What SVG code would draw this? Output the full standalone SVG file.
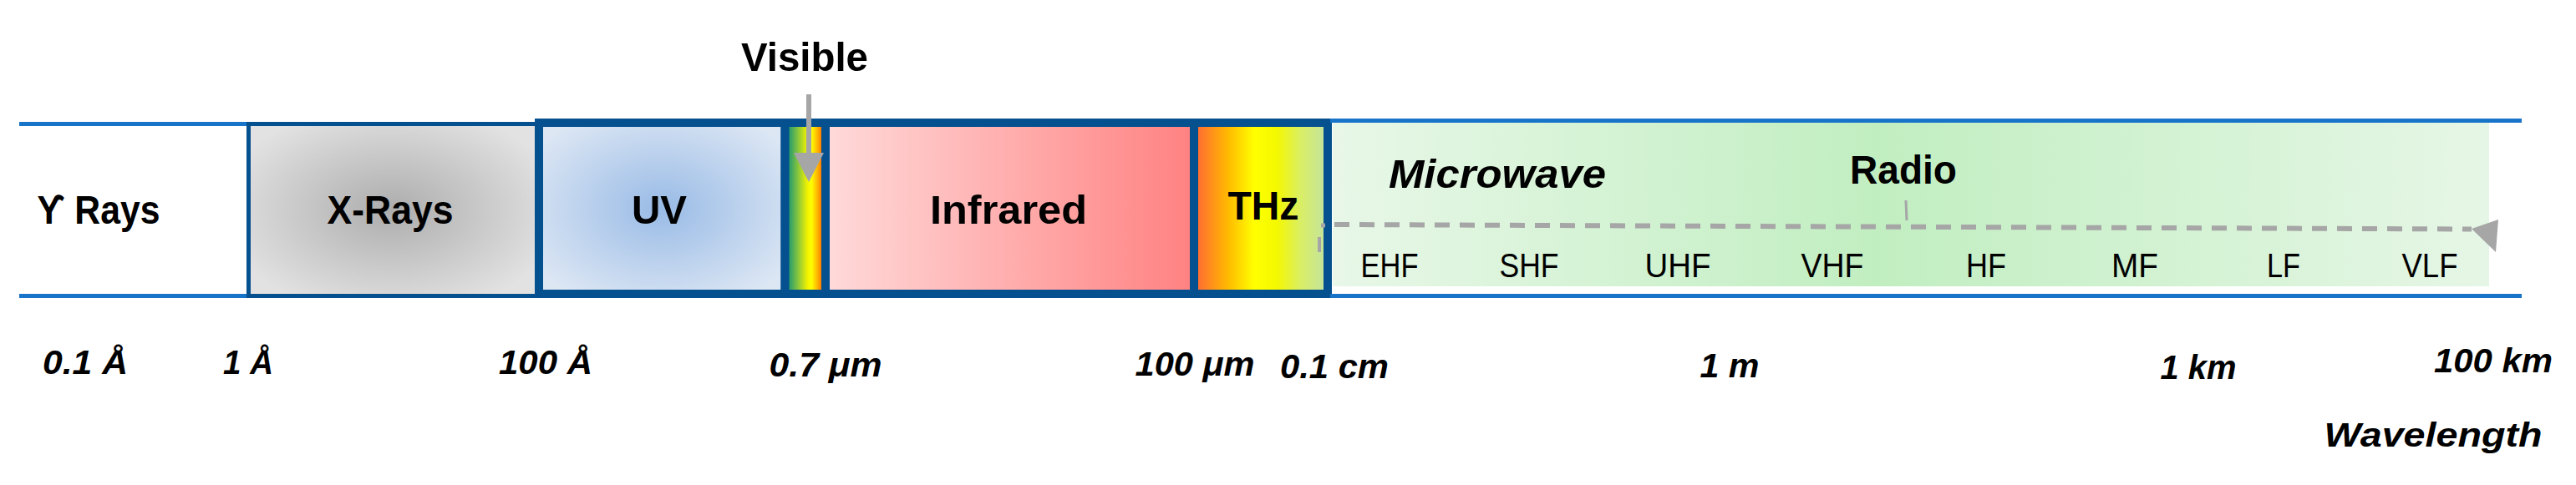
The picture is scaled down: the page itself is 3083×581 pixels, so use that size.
<svg xmlns="http://www.w3.org/2000/svg" width="3083" height="581" viewBox="0 0 3083 581">
<defs>
<style>
.lbl{font-family:"Liberation Sans","DejaVu Sans",Arial,sans-serif;font-weight:bold;font-size:49px;fill:#000;text-anchor:middle}
.it{font-style:italic}
.band{font-family:"Liberation Sans","DejaVu Sans",Arial,sans-serif;font-weight:normal;font-size:40px;fill:#000;text-anchor:middle}
.wl{font-family:"Liberation Sans","DejaVu Sans",Arial,sans-serif;font-weight:bold;font-style:italic;font-size:40px;fill:#000;text-anchor:middle}
.edge{fill:none;stroke:#05508f;stroke-width:10}
.rule{stroke:#1874c9;stroke-width:5}
.conn{stroke:#a6a6a6;fill:none}
.head{fill:#a6a6a6}
</style>
<radialGradient id="gX" cx="0.5" cy="0.5" r="0.6">
<stop offset="0" stop-color="#adadad"/>
<stop offset="1" stop-color="#e2e2e2"/>
</radialGradient>
<radialGradient id="gUV" cx="0.5" cy="0.5" r="0.6">
<stop offset="0" stop-color="#99bbe6"/>
<stop offset="1" stop-color="#dde7f4"/>
</radialGradient>
<linearGradient id="gVis" x1="0" y1="0" x2="1" y2="0">
<stop offset="0" stop-color="#008a7e"/>
<stop offset="0.3" stop-color="#80c341"/>
<stop offset="0.55" stop-color="#f2f200"/>
<stop offset="0.65" stop-color="#ffff00"/>
<stop offset="0.85" stop-color="#ff9a00"/>
<stop offset="1" stop-color="#ff2a00"/>
</linearGradient>
<linearGradient id="gIR" x1="0" y1="0" x2="1" y2="0">
<stop offset="0" stop-color="#ffdada"/>
<stop offset="1" stop-color="#ff8181"/>
</linearGradient>
<linearGradient id="gTHz" x1="0" y1="0" x2="1" y2="0">
<stop offset="0" stop-color="#ff6438"/>
<stop offset="0.25" stop-color="#ffb800"/>
<stop offset="0.45" stop-color="#ffff00"/>
<stop offset="0.62" stop-color="#f4f800"/>
<stop offset="0.8" stop-color="#d9ee66"/>
<stop offset="1" stop-color="#c2e3a2"/>
</linearGradient>
<linearGradient id="gGreen" x1="0" y1="0" x2="1" y2="0">
<stop offset="0" stop-color="#e8f7e8"/>
<stop offset="0.47" stop-color="#c1eec1"/>
<stop offset="1" stop-color="#e6f6e6"/>
</linearGradient>
</defs>
<rect x="0" y="0" width="3083" height="581" fill="#ffffff"/>

<g id="frame-lines">
<line class="rule" x1="23" y1="148.5" x2="296" y2="148.5"/>
<line class="rule" x1="23" y1="354.5" x2="296" y2="354.5"/>
</g>

<g id="node-gamma">
<text class="lbl" x="118" y="268" textLength="147" lengthAdjust="spacingAndGlyphs">ϒ Rays</text>
</g>

<g id="node-xrays">
<rect x="295" y="146" width="345" height="211" fill="url(#gX)"/>
<rect x="297.5" y="148.5" width="345" height="206" fill="none" stroke="#05508f" stroke-width="5"/>
<text class="lbl" x="467" y="268" textLength="151" lengthAdjust="spacingAndGlyphs">X-Rays</text>
</g>

<g id="node-uv">
<rect x="640" y="142" width="304" height="215" fill="url(#gUV)"/>
<rect class="edge" x="645" y="147" width="294.5" height="205"/>
<text class="lbl" x="789" y="268" textLength="66" lengthAdjust="spacingAndGlyphs">UV</text>
</g>

<g id="node-visible">
<rect x="940" y="142" width="48" height="215" fill="url(#gVis)"/>
<rect class="edge" x="939.5" y="147" width="48.5" height="205"/>
<text class="lbl" x="963" y="85" textLength="152" lengthAdjust="spacingAndGlyphs">Visible</text>
</g>

<g id="node-infrared">
<rect x="988" y="142" width="441" height="215" fill="url(#gIR)"/>
<rect class="edge" x="988" y="147" width="441" height="205"/>
<text class="lbl" x="1207" y="268" textLength="188" lengthAdjust="spacingAndGlyphs">Infrared</text>
</g>

<g id="node-thz">
<rect x="1429" y="142" width="160" height="215" fill="url(#gTHz)"/>
<rect class="edge" x="1429" y="147" width="160" height="205"/>
<text class="lbl" x="1512" y="263" textLength="85" lengthAdjust="spacingAndGlyphs">THz</text>
</g>

<g id="node-microwave-radio">
<rect x="1595" y="147" width="1384" height="196" fill="url(#gGreen)"/>
<line class="rule" x1="1592" y1="144.5" x2="3018" y2="144.5"/>
<line class="rule" x1="1592" y1="354.5" x2="3018" y2="354.5"/>
<text class="lbl it" x="1792" y="225" textLength="260" lengthAdjust="spacingAndGlyphs">Microwave</text>
<text class="lbl" x="2278" y="220" textLength="128" lengthAdjust="spacingAndGlyphs">Radio</text>
<text class="band" x="1663" y="332" textLength="69" lengthAdjust="spacingAndGlyphs">EHF</text>
<text class="band" x="1830" y="332" textLength="71" lengthAdjust="spacingAndGlyphs">SHF</text>
<text class="band" x="2008" y="332" textLength="79" lengthAdjust="spacingAndGlyphs">UHF</text>
<text class="band" x="2193" y="332" textLength="75" lengthAdjust="spacingAndGlyphs">VHF</text>
<text class="band" x="2377" y="332" textLength="48" lengthAdjust="spacingAndGlyphs">HF</text>
<text class="band" x="2555" y="332" textLength="56" lengthAdjust="spacingAndGlyphs">MF</text>
<text class="band" x="2733" y="332" textLength="40" lengthAdjust="spacingAndGlyphs">LF</text>
<text class="band" x="2908" y="332" textLength="67" lengthAdjust="spacingAndGlyphs">VLF</text>
</g>

<g id="wavelength-scale">
<text class="wl" x="102" y="448" textLength="102" lengthAdjust="spacingAndGlyphs">0.1 Å</text>
<text class="wl" x="297" y="448" textLength="60" lengthAdjust="spacingAndGlyphs">1 Å</text>
<text class="wl" x="653" y="448" textLength="112" lengthAdjust="spacingAndGlyphs">100 Å</text>
<text class="wl" x="988" y="451" textLength="135" lengthAdjust="spacingAndGlyphs">0.7 μm</text>
<text class="wl" x="1430" y="450" textLength="143" lengthAdjust="spacingAndGlyphs">100 μm</text>
<text class="wl" x="1597" y="453" textLength="130" lengthAdjust="spacingAndGlyphs">0.1 cm</text>
<text class="wl" x="2070" y="452" textLength="71" lengthAdjust="spacingAndGlyphs">1 m</text>
<text class="wl" x="2631" y="454" textLength="91" lengthAdjust="spacingAndGlyphs">1 km</text>
<text class="wl" x="2984" y="446" textLength="142" lengthAdjust="spacingAndGlyphs">100 km</text>
<text class="wl" x="2912" y="535" font-size="47" textLength="261" lengthAdjust="spacingAndGlyphs">Wavelength</text>
</g>

<g id="connectors">
<line class="conn" x1="968" y1="113" x2="968" y2="185" stroke-width="6"/>
<polygon class="head" points="950,183 986,183 968,218"/>
<line class="conn" x1="1597" y1="269" x2="2958" y2="274.5" stroke-width="6" stroke-dasharray="18 12"/>
<polygon class="head" points="2958,274 2990,263 2987,302"/>
<line class="conn" x1="1579" y1="284" x2="1579" y2="302" stroke-width="4"/>
<line class="conn" x1="1581" y1="270" x2="1586" y2="270" stroke-width="5"/>
<line class="conn" x1="2281" y1="240" x2="2282" y2="264" stroke-width="3"/>
</g>
</svg>
